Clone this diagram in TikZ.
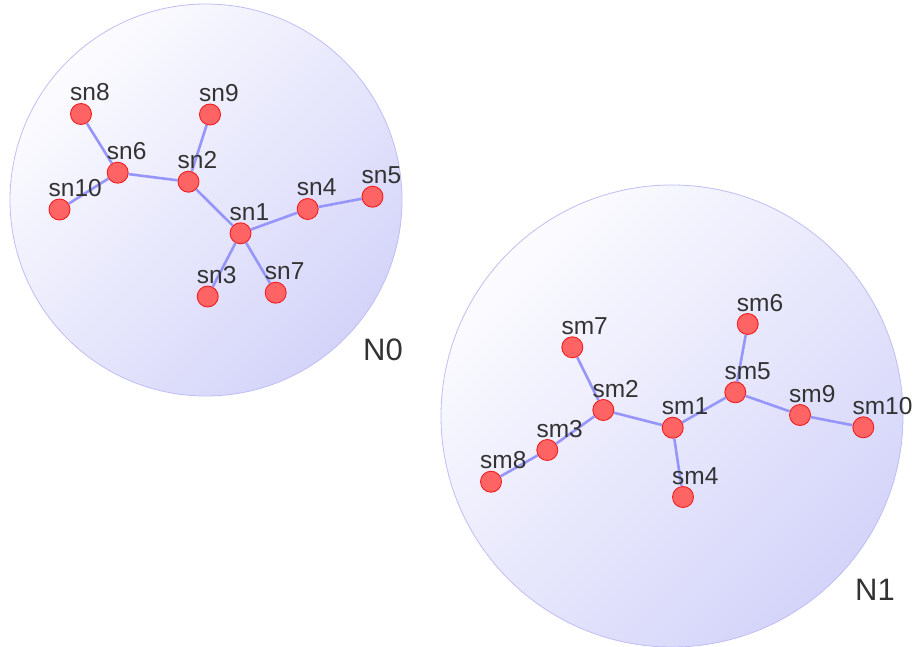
\documentclass[tikz,border=0pt]{standalone}
\usepackage{fontspec}
\setmainfont{Liberation Sans}
\definecolor{edgec}{RGB}{150,150,250}
\definecolor{nodefill}{RGB}{255,100,100}
\definecolor{nodeline}{RGB}{240,30,30}
\definecolor{txt}{RGB}{51,51,51}
\definecolor{bubbleA}{RGB}{252,252,255}
\definecolor{bubbleB}{RGB}{212,212,250}
\definecolor{bubbleline}{RGB}{190,190,245}
\tikzset{
  vert/.style={circle,draw=nodeline,line width=0.9pt,fill=nodefill,minimum size=21pt,inner sep=0pt},
  lab/.style={anchor=base west,inner sep=0pt,text=txt,font=\fontsize{24.5}{28}\selectfont},
  grp/.style={circle,draw=bubbleline,line width=0.8pt,shading=axis,top color=bubbleA,bottom color=bubbleB,shading angle=45,inner sep=0pt},
  grplab/.style={anchor=center,inner sep=0pt,text=txt,font=\fontsize{31}{34}\selectfont},
  link/.style={draw=edgec,line width=2.6pt}
}
\begin{document}
\begin{tikzpicture}[x=1pt,y=-1pt]
\useasboundingbox (0,0) rectangle (918,647);
% group bubbles
\node[grp,minimum size=392pt] (N0) at (206,200) {};
\node[grp,minimum size=462pt] (N1) at (672,416) {};
\node[grplab] (N0l) at (383,350) {N0};
\node[grplab] (N1l) at (875,590) {N1};
% vertices
\foreach \n/\x/\y in {sn1/240.5/233.3,sn2/188.5/181.7,sn3/207.7/296.5,sn4/307.7/209,sn5/372.5/196.7,sn6/117.7/172.7,sn7/275.7/292.7,sn8/81/114,sn9/210/114.5,sn10/59.5/209.5,
  sm1/672.7/427.7,sm2/603.3/410,sm3/547.3/450,sm4/683/497,sm5/735.3/392.3,sm6/747.7/324,sm7/572.3/347.3,sm8/491/481.7,sm9/800/415,sm10/863.3/427.3}{
  \node[vert] (\n) at (\x,\y) {};
}
% connectors
\foreach \a/\b in {sn8/sn6,sn6/sn10,sn6/sn2,sn9/sn2,sn2/sn1,sn1/sn4,sn4/sn5,sn1/sn3,sn1/sn7,
  sm7/sm2,sm2/sm3,sm3/sm8,sm2/sm1,sm1/sm4,sm1/sm5,sm5/sm6,sm5/sm9,sm9/sm10}{
  \draw[link] (\a) -- (\b);
}
% labels
\foreach \n in {sn1,sn2,sn3,sn4,sn5,sn6,sn7,sn8,sn9,sn10,sm1,sm2,sm3,sm4,sm5,sm6,sm7,sm8,sm9,sm10}{
  \node[lab] (\n-t) at ([xshift=-11pt,yshift=13pt]\n.center) {\n};
}
\end{tikzpicture}
\end{document}
